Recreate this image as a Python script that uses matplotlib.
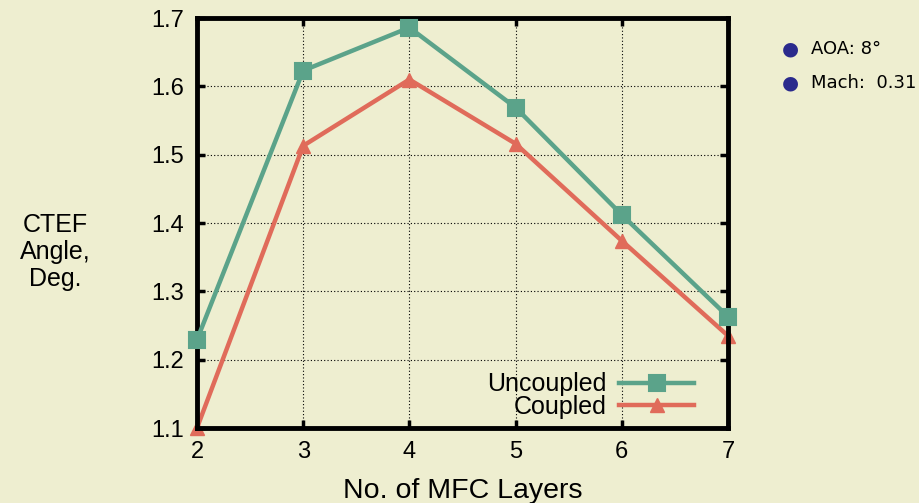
import matplotlib
matplotlib.use("Agg")
import matplotlib.pyplot as plt

layers = [2, 3, 4, 5, 6, 7]
uncoupled = [1.229, 1.623, 1.686, 1.569, 1.412, 1.263]
coupled = [1.100, 1.513, 1.610, 1.516, 1.374, 1.235]
yticks = [1.1, 1.2, 1.3, 1.4, 1.5, 1.6, 1.7]
notes = ["AOA: 8°", "Mach:  0.31"]

bg = "#EEEED0"
green = "#5BA38A"
red = "#E06B5A"

plt.rcParams['font.family'] = ['Liberation Sans', 'DejaVu Sans']
fig = plt.figure(figsize=(9.2, 5.03), dpi=100, facecolor=bg)
ax = fig.add_axes([0.2141, 0.1491, 0.5772, 0.8151])
ax.set_facecolor(bg)

ax.plot(layers, uncoupled, color=green, lw=3.2, marker='s', ms=11, label='Uncoupled',
        clip_on=False, zorder=5, markeredgewidth=1.5, markeredgecolor=green)
ax.plot(layers, coupled, color=red, lw=3.2, marker='^', ms=10, label='Coupled',
        clip_on=False, zorder=3)

ax.set_xlim(2, 7)
ax.set_ylim(1.1, 1.7)
ax.set_xticks(layers)
ax.set_yticks(yticks)
ax.set_yticklabels([f"{v:.1f}" for v in yticks])
ax.tick_params(direction='in', length=6, width=2.5, labelsize=17, pad=9, top=True, right=True)
for s in ax.spines.values():
    s.set_linewidth(3.5)
    s.set_zorder(4)
ax.grid(True, color='black', linestyle=(0, (1, 2)), linewidth=0.8)

ax.set_xlabel("No. of MFC Layers", fontsize=20.5, labelpad=11)
fig.text(55/920, 1 - 252/503, "CTEF\nAngle,\nDeg.", fontsize=18, ha='center', va='center', linespacing=1.18)

leg = ax.legend(loc='lower right', frameon=False, markerfirst=False, fontsize=18,
                handlelength=3.0, handletextpad=0.5, borderaxespad=0.2, labelspacing=-0.05,
                bbox_to_anchor=(0.965, -0.015))

for i, t in enumerate(notes):
    y = 1 - (49 + i * 34) / 503
    fig.text(790 / 920, y, "●", color='#2A2A8C', fontsize=14, ha='center', va='center', family='DejaVu Sans')
    fig.text(811 / 920, y, t, fontsize=13, ha='left', va='center', family='DejaVu Sans')

fig.savefig("out.png", dpi=100, facecolor=bg)
